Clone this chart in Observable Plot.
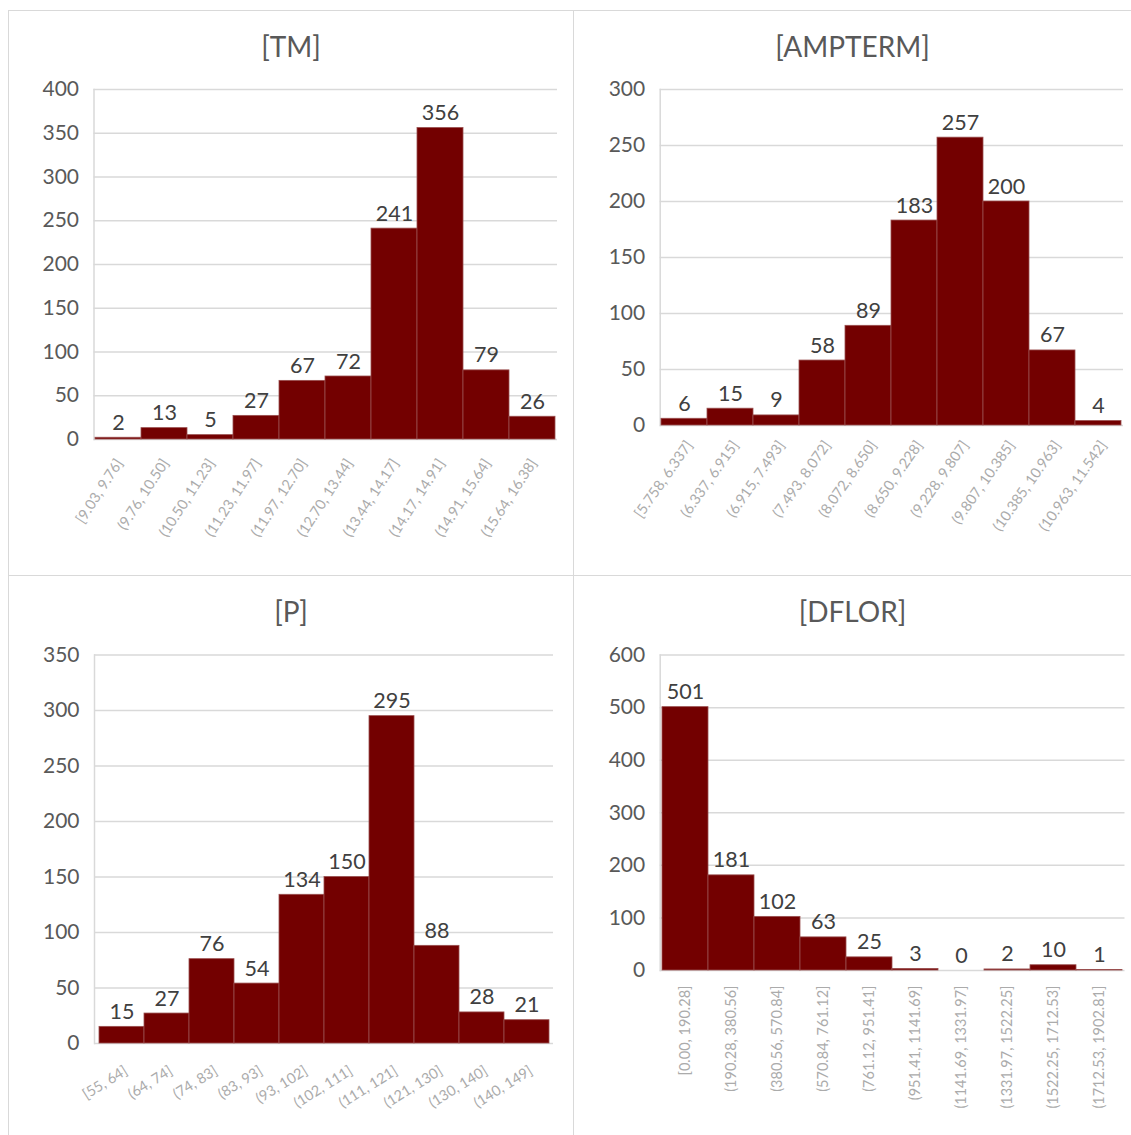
<!DOCTYPE html>
<html><head><meta charset="utf-8">
<script src="https://cdn.jsdelivr.net/npm/d3@7"></script>
<script src="https://cdn.jsdelivr.net/npm/@observablehq/plot@0.6"></script>
<style>
body{margin:0;background:#fff;font-family:Lato,"Open Sans",sans-serif;}
#wrap{position:relative;width:1131px;height:1135px;background:#fff;overflow:hidden;}
.panel{position:absolute;box-sizing:border-box;border-top:1px solid #d9d9d9;border-left:1px solid #d9d9d9;}
.title{position:absolute;left:0;right:0;top:0;height:70px;line-height:70px;text-align:center;color:#595959;font-size:28px;}
.chart{position:absolute;left:0;top:70px;}
</style></head>
<body><div id="wrap"></div>
<script>
const tmBins = ["[9.03, 9.76]", "(9.76, 10.50]", "(10.50, 11.23]", "(11.23, 11.97]", "(11.97, 12.70]", "(12.70, 13.44]", "(13.44, 14.17]", "(14.17, 14.91]", "(14.91, 15.64]", "(15.64, 16.38]"];
const tmCounts = [2, 13, 5, 27, 67, 72, 241, 356, 79, 26];
const tmTicks = [0, 50, 100, 150, 200, 250, 300, 350, 400];

const ampBins = ["[5.758, 6.337]", "(6.337, 6.915]", "(6.915, 7.493]", "(7.493, 8.072]", "(8.072, 8.650]", "(8.650, 9.228]", "(9.228, 9.807]", "(9.807, 10.385]", "(10.385, 10.963]", "(10.963, 11.542]"];
const ampCounts = [6, 15, 9, 58, 89, 183, 257, 200, 67, 4];
const ampTicks = [0, 50, 100, 150, 200, 250, 300];

const pBins = ["[55, 64]", "(64, 74]", "(74, 83]", "(83, 93]", "(93, 102]", "(102, 111]", "(111, 121]", "(121, 130]", "(130, 140]", "(140, 149]"];
const pCounts = [15, 27, 76, 54, 134, 150, 295, 88, 28, 21];
const pTicks = [0, 50, 100, 150, 200, 250, 300, 350];

const dflorBins = ["[0.00, 190.28]", "(190.28, 380.56]", "(380.56, 570.84]", "(570.84, 761.12]", "(761.12, 951.41]", "(951.41, 1141.69]", "(1141.69, 1331.97]", "(1331.97, 1522.25]", "(1522.25, 1712.53]", "(1712.53, 1902.81]"];
const dflorCounts = [501, 181, 102, 63, 25, 3, 0, 2, 10, 1];
const dflorTicks = [0, 100, 200, 300, 400, 500, 600];

const panels = [
  {title: "[TM]", bins: tmBins, counts: tmCounts, ticks: tmTicks,
   box: {left: 8, top: 10, w: 565, h: 565}, m: {t: 8, b: 137, l: 84.5, r: 16}, rot: -57, pad: 21, dx: 1},
  {title: "[AMPTERM]", bins: ampBins, counts: ampCounts, ticks: ampTicks,
   box: {left: 573, top: 10, w: 558, h: 565}, m: {t: 8, b: 151, l: 85.7, r: 8}, rot: -55, pad: 17, dx: 5},
  {title: "[P]", bins: pBins, counts: pCounts, ticks: pTicks,
   box: {left: 8, top: 575, w: 565, h: 560}, m: {t: 8.6, b: 93, l: 85, r: 20}, rot: -32, pad: 26, dx: 4},
  {title: "[DFLOR]", bins: dflorBins, counts: dflorCounts, ticks: dflorTicks,
   box: {left: 573, top: 575, w: 558, h: 560}, m: {t: 8.6, b: 166, l: 85.7, r: 6.5}, rot: -90, pad: 15, dx: 0}
];

const wrap = document.getElementById("wrap");
for (const p of panels) {
  const div = document.createElement("div");
  div.className = "panel";
  Object.assign(div.style, {left: p.box.left + "px", top: p.box.top + "px", width: p.box.w + "px", height: p.box.h + "px"});
  const t = document.createElement("div");
  t.className = "title";
  t.textContent = p.title;
  div.appendChild(t);
  const data = p.bins.map((b, i) => ({bin: b, count: p.counts[i]}));
  const ymax = p.ticks[p.ticks.length - 1];
  const chart = Plot.plot({
    width: p.box.w - 1,
    height: p.box.h - 70,
    marginTop: p.m.t, marginBottom: p.m.b, marginLeft: p.m.l, marginRight: p.m.r,
    style: {fontFamily: "Lato, 'Open Sans', sans-serif", background: "transparent", overflow: "visible"},
    x: {domain: p.bins, padding: 0, label: null},
    y: {domain: [0, ymax], label: null},
    marks: [
      Plot.gridY(p.ticks, {stroke: "#d9d9d9", strokeOpacity: 1, strokeWidth: 1.5}),
      Plot.frame({anchor: "left", stroke: "#d9d9d9", strokeWidth: 1.5}),
      Plot.barY(data, {x: "bin", y: "count", fill: "#730000", stroke: "#9a4f4f", strokeWidth: 0.8}),
      Plot.text(data, {x: "bin", y: "count", text: d => String(d.count), dy: -8, lineAnchor: "bottom", fontSize: 21.5, fill: "#404040"}),
      Plot.axisY(p.ticks, {tickSize: 0, tickPadding: 15, fontSize: 21, color: "#595959", label: null}),
      Plot.axisX({tickSize: 0, tickPadding: p.pad, dx: p.dx, tickRotate: p.rot, fontSize: 14.5, color: "#ababab", label: null})
    ]
  });
  chart.classList.add("chart");
  div.appendChild(chart);
  wrap.appendChild(div);
}
</script>
</body></html>
